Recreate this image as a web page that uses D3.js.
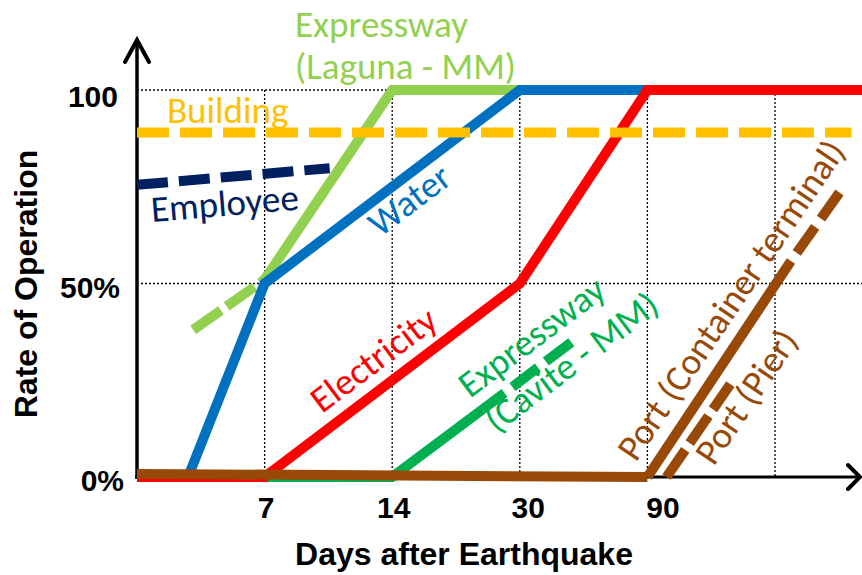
<!DOCTYPE html>
<html>
<head>
<meta charset="utf-8">
<script src="https://cdn.jsdelivr.net/npm/d3@7"></script>
<style>
  html, body { margin: 0; padding: 0; background: #fff; }
  svg { display: block; }
</style>
</head>
<body>
<svg id="chart" width="862" height="575"></svg>
<script>
// Recovery of infrastructure after an earthquake.
// x is a step index: 0 = day of the quake, 1 = 7 days, 2 = 14, 3 = 30, 4 = 90, 5 = beyond.
const stepIndex = [1, 2, 3, 4];
const dayLabels = ["7", "14", "30", "90"];
const rateTicks = [0, 50, 100];
const rateLabels = ["0%", "50%", "100"];

// Series: [step, rate %]
const building          = [[0, 89], [5.6, 89]];
const employee          = [[0, 75.5], [1.51, 79.8]];
const lagunaPlanned     = [[0.44, 38], [1, 51]];
const lagunaActual      = [[1, 51], [2, 100], [3.05, 100]];
const water             = [[0, 0], [0.4, 0], [1, 50], [3, 100], [4, 100]];
const electricity       = [[0, 0], [1, 0], [3, 50], [4, 100], [5.7, 100]];
const caviteActual      = [[0, 0], [2, 0], [2.88, 21.7]];
const cavitePlanned     = [[2.88, 21.7], [3.43, 35.5]];
const portFlat          = [[0, 0.8], [4, 0]];
const containerActual   = [[4, 0], [5.125, 55.8]];
const containerPlanned  = [[5.125, 55.8], [5.52, 74.2]];
const pier              = [[4.15, 0], [4.65, 24]];

const colors = {
  building: "#FFC000",
  employee: "#002060",
  laguna: "#92D050",
  water: "#0070C0",
  electricity: "#FF0000",
  cavite: "#00B050",
  port: "#984807"
};

const svg = d3.select("#chart");
const x = d3.scaleLinear().domain([0, 5]).range([137, 775]);
const y = d3.scaleLinear().domain([0, 100]).range([477, 90]);
const W = 862;

// Dotted grid
const grid = svg.append("g").attr("stroke", "#000").attr("stroke-width", 1.3)
  .attr("stroke-dasharray", "2,2").attr("fill", "none");
[1, 2, 3, 4, 5].forEach(i => {
  grid.append("line").attr("x1", x(i)).attr("x2", x(i)).attr("y1", y(100)).attr("y2", y(0));
});
[50, 100].forEach(v => {
  grid.append("line").attr("x1", x(0)).attr("x2", W).attr("y1", y(v)).attr("y2", y(v));
});

// Axes with open arrowheads
const axes = svg.append("g").attr("stroke", "#000").attr("fill", "none");
axes.append("line").attr("x1", x(0)).attr("x2", x(0)).attr("y1", y(0) + 2).attr("y2", 40).attr("stroke-width", 3.5);
axes.append("polyline").attr("points", [[125, 62], [x(0), 40], [149, 62]].join(" "))
  .attr("stroke-width", 4).attr("stroke-linecap", "round").attr("stroke-linejoin", "miter");
axes.append("line").attr("x1", x(0) - 2).attr("x2", 859).attr("y1", y(0)).attr("y2", y(0)).attr("stroke-width", 3);
axes.append("polyline").attr("points", [[848, 465], [860, y(0)], [848, 489]].join(" "))
  .attr("stroke-width", 4).attr("stroke-linecap", "round");

// Tick labels
const tickFont = "'Liberation Sans', Arial, sans-serif";
const xAxis = d3.axisBottom(x).tickValues(stepIndex).tickSize(0).tickPadding(20)
  .tickFormat((d, i) => dayLabels[i]);
const gx = svg.append("g").attr("transform", `translate(0,${y(0)})`).call(xAxis);
const xNudge = [1, 1, 8, 15];
gx.selectAll("text").attr("dx", (d, i) => xNudge[i]);

const yAxis = d3.axisLeft(y).tickValues(rateTicks).tickSize(0).tickPadding(17)
  .tickFormat((d, i) => rateLabels[i]);
const gy = svg.append("g").attr("transform", `translate(${x(0)},0)`).call(yAxis);
const yNudge = [[4, 13.5], [0, 13.5], [-2, 16]];
gy.selectAll("text")
  .attr("dx", (d, i) => yNudge[i][0])
  .attr("dy", (d, i) => yNudge[i][1]);

[gx, gy].forEach(g => {
  g.select(".domain").remove();
  g.selectAll("text").attr("font-family", tickFont).attr("font-weight", "bold")
    .attr("font-size", 30).attr("fill", "#000");
});

// Axis titles
svg.append("text").attr("x", 464).attr("y", 565).attr("text-anchor", "middle")
  .attr("font-family", tickFont).attr("font-weight", "bold").attr("font-size", 32)
  .text("Days after Earthquake");
svg.append("text").attr("transform", "translate(37,284) rotate(-90)").attr("text-anchor", "middle")
  .attr("font-family", tickFont).attr("font-weight", "bold").attr("font-size", 32)
  .text("Rate of Operation");

// Lines; dashed segments may start with a gap (startGap)
const line = d3.line().x(d => x(d[0])).y(d => y(d[1]));
function draw(data, color, dash, startGap) {
  svg.append("path").datum(data).attr("d", line)
    .attr("fill", "none").attr("stroke", color).attr("stroke-width", 10)
    .attr("stroke-linejoin", "miter").attr("stroke-linecap", "butt")
    .attr("stroke-dasharray", dash || null)
    .attr("stroke-dashoffset", dash && startGap ? dash.split(",")[0] : null);
}
draw(caviteActual, colors.cavite);
draw(cavitePlanned, colors.cavite, "32,10", true);
draw(lagunaPlanned, colors.laguna, "34,7");
draw(lagunaActual, colors.laguna);
draw(water, colors.water);
draw(electricity, colors.electricity);
draw(employee, colors.employee, "31,11");
draw(building, colors.building, "32,11");
draw(portFlat, colors.port);
draw(containerActual, colors.port);
draw(containerPlanned, colors.port, "32,10", true);
draw(pier, colors.port, "33,8");

// Series labels, anchored at the left end of their baseline
const labelFont = "Carlito, Calibri, Lato, sans-serif";
const annotations = [
  { lines: ["Expressway", "(Laguna - MM)"], color: colors.laguna, at: [1.238, 113.7], angle: 0, gap: 42 },
  { lines: ["Building"], color: colors.building, at: [0.235, 91.5], angle: 0 },
  { lines: ["Employee"], color: colors.employee, at: [0.118, 65.9], angle: -4.7 },
  { lines: ["Water"], color: colors.water, at: [1.904, 61.8], angle: -37 },
  { lines: ["Electricity"], color: colors.electricity, at: [1.45, 16.3], angle: -37 },
  { lines: ["Expressway", "(Cavite - MM)"], color: colors.cavite, at: [2.61, 20.2], angle: -37, gap: 44 },
  { lines: ["Port (Container terminal)"], color: colors.port, at: [3.91, 3.6], angle: -56 },
  { lines: ["Port (Pier)"], color: colors.port, at: [4.52, 2.6], angle: -56 }
];
annotations.forEach(a => {
  const t = svg.append("text")
    .attr("transform", `translate(${x(a.at[0])},${y(a.at[1])}) rotate(${a.angle})`)
    .attr("font-family", labelFont).attr("font-size", 37).attr("fill", a.color);
  a.lines.forEach((s, i) => {
    t.append("tspan").attr("x", 0).attr("dy", i === 0 ? 0 : a.gap).text(s);
  });
});
</script>
</body>
</html>
